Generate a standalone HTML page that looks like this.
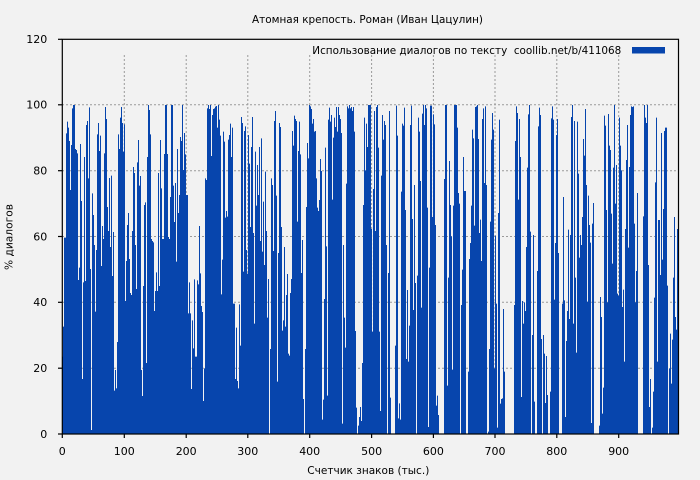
<!DOCTYPE html>
<html><head><meta charset="utf-8"><style>
html,body{margin:0;padding:0;background:#f2f2f2;}
svg{display:block;}
text{font-family:"DejaVu Sans","Liberation Sans",sans-serif;font-size:11px;fill:#000;}
</style></head><body>
<svg width="700" height="480" viewBox="0 0 700 480" xmlns="http://www.w3.org/2000/svg">
<rect x="0" y="0" width="700" height="480" fill="#f2f2f2"/>
<g stroke="#9a9a9a" stroke-width="1" stroke-dasharray="2,2" fill="none">
<line x1="62" y1="104.8" x2="678" y2="104.8"/>
<line x1="62" y1="170.7" x2="678" y2="170.7"/>
<line x1="62" y1="236.5" x2="678" y2="236.5"/>
<line x1="62" y1="302.3" x2="678" y2="302.3"/>
<line x1="62" y1="368.2" x2="678" y2="368.2"/>
<line x1="124.3" y1="55" x2="124.3" y2="434"/>
<line x1="186.2" y1="55" x2="186.2" y2="434"/>
<line x1="247.8" y1="55" x2="247.8" y2="434"/>
<line x1="309.7" y1="55" x2="309.7" y2="434"/>
<line x1="371.6" y1="55" x2="371.6" y2="434"/>
<line x1="433.4" y1="55" x2="433.4" y2="434"/>
<line x1="495.0" y1="55" x2="495.0" y2="434"/>
<line x1="556.8" y1="55" x2="556.8" y2="434"/>
<line x1="618.7" y1="55" x2="618.7" y2="434"/>
</g>
<g fill="#0745ad">
<path transform="translate(62,95) scale(0.3333333)" d="M0,1017V785H3V695H6V428H9V428H12V115H15V80H18V98H21V138H24V285H27V150H30V40H33V30H36V30H39V162H42V165H45V175H48V555H51V518H54V147H57V318H60V852H63V562H66V186H69V558H72V90H75V78H78V250H81V37H84V522H87V1005H90V295H93V360H96V450H99V650H102V465H105V118H108V84H111V168H114V122H117V513H120V393H123V432H126V175H129V36H132V72H135V336H138V408H141V249H144V456H147V242H150V543H153V411H156V887H159V825H162V880H165V741H168V118H171V162H174V68H177V36H180V84H183V170H186V88H189V618H192V498H195V390H198V354H201V492H204V594H207V600H210V408H213V216H216V234H219V450H222V582H225V202H228V135H231V272H234V243H237V825H240V903H243V573H246V330H249V322H252V804H255V186H258V30H261V45H264V118H267V432H270V438H273V442H276V648H279V588H282V532H285V588H288V234H291V573H294V135H297V280H300V432H303V432H306V177H309V30H312V30H315V177H318V426H321V432H324V306H327V30H330V30H333V272H336V381H339V264H342V500H345V162H348V354H351V300H354V126H357V138H360V30H363V225H366V114H369V178H372V300H375V300H378V655H381V562H384V655H387V882H390V676H393V760H396V553H399V785H402V785H405V556H408V568H411V393H414V535H417V633H420V651H423V918H426V820H429V250H432V255H435V40H438V30H441V42H444V30H447V183H450V60H453V42H456V40H459V35H462V33H465V1017Z"/>
<path transform="translate(217,95) scale(0.3333333)" d="M0,1017V98H3V30H6V74H9V122H12V598H15V494H18V110H21V140H24V368H27V348H30V365H33V134H36V120H39V86H42V186H45V98H48V626H51V626H54V852H57V698H60V858H63V880H66V628H69V752H72V66H75V84H78V530H81V108H84V94H87V465H90V536H93V120H96V206H99V396H102V156H105V66H108V414H111V686H114V170H117V332H120V210H123V300H126V156H129V438H132V130H135V470H138V320H141V510H144V230H147V408H150V668H153V552H156V1017H159V762H162V250H165V270H168V468H171V78H174V48H177V302H180V860H183V474H186V84H189V96H192V396H195V707H198V676H201V456H204V695H207V600H210V537H213V776H216V782H219V594H222V552H225V108H228V152H231V62H234V72H237V78H240V380H243V168H246V80H249V178H252V534H255V435H258V912H261V1017H264V762H267V336H270V144H273V190H276V30H279V34H282V42H285V86H288V72H291V110H294V108H297V250H300V338H303V348H306V315H309V192H312V228H315V974H318V914H321V612H324V158H327V454H330V902H333V74H336V38H339V80H342V60H345V314H348V128H351V68H354V96H357V36H360V110H363V36H366V60H369V72H372V114H375V986H378V450H381V668H384V758H387V266H390V34H393V40H396V30H399V40H402V36H405V48H408V36H411V110H414V708H417V938H420V1017H423V992H426V966H429V936H432V978H435V804H438V330H441V68H444V226H447V86H450V156H453V30H456V30H459V30H462V402H465V1017Z"/>
<path transform="translate(372,95) scale(0.3333333)" d="M0,1017V710H3V282H6V48H9V408H12V36H15V30H18V158H21V710H24V948H27V242H30V60H33V134H36V78H39V90H42V450H45V1017H48V534H51V48H54V908H57V1017H69V752H72V32H75V122H78V970H81V925H84V974H87V290H90V86H93V92H96V38H99V345H102V792H105V585H108V800H111V692H114V90H117V32H120V372H123V645H126V270H129V564H132V1017H135V542H138V68H141V110H144V258H147V638H150V56H153V30H156V90H159V30H162V40H165V338H168V996H171V518H174V32H177V32H180V366H183V58H186V88H189V390H192V932H195V902H198V960H201V1017H216V252H219V30H222V30H225V872H228V548H231V198H234V330H237V424H240V824H243V332H246V30H249V30H252V30H255V98H258V294H261V326H264V1017H267V630H270V524H273V186H276V288H279V288H282V1017H288V830H291V492H294V444H297V332H300V104H303V130H306V392H309V36H312V34H315V30H318V132H321V414H324V374H327V498H330V72H333V40H336V264H339V34H342V270H345V1017H348V1010H351V762H354V380H357V134H360V54H363V104H366V820H369V422H372V626H375V998H378V354H381V74H384V926H387V912H390V910H393V642H396V830H399V1017H426V630H429V138H432V34H435V54H438V314H441V72H444V186H447V906H450V618H453V686H456V622H459V648H462V456H465V1017Z"/>
<path transform="translate(527,95) scale(0.3333333)" d="M0,1017V218H3V58H6V30H9V410H12V1017H15V720H18V420H21V920H24V1017H30V528H33V94H36V38H39V60H42V732H45V1017H48V720H51V776H54V924H57V783H60V900H63V1017H69V890H72V70H75V34H78V74H81V614H84V444H87V120H90V72H93V474H96V1017H105V626H108V306H111V616H114V966H117V738H120V648H123V404H126V672H129V420H132V66H135V30H138V686H141V78H144V548H147V773H150V80H153V236H156V488H159V420H162V450H165V366H168V132H171V182H174V42H177V270H180V620H183V302H186V390H189V443H192V984H195V386H198V324H201V1017H216V992H219V606H222V666H225V956H228V878H231V62H234V92H237V345H240V622H243V57H246V152H249V165H252V356H255V506H258V218H261V30H264V326H267V210H270V596H273V602H276V68H279V152H282V226H285V636H288V584H291V800H294V402H297V195H300V90H303V458H306V216H309V60H312V34H315V36H318V34H321V386H324V622H327V528H330V294H333V1017H348V364H351V30H354V68H357V84H360V30H363V510H366V936H369V852H372V1017H375V998H378V890H381V608H384V262H387V68H390V800H393V375H396V375H399V540H402V114H405V494H408V342H411V108H414V98H420V572H423V1017H426V820H429V716H432V866H435V734H438V548H441V366H444V666H447V704H450V402H453V1017Z"/>
</g>
<rect x="62.3" y="39.3" width="616.2" height="394.7" fill="none" stroke="#000" stroke-width="1.2"/>
<g stroke="#000" stroke-width="1.2">
<line x1="58" y1="434" x2="62" y2="434"/>
<line x1="58" y1="368.2" x2="62" y2="368.2"/>
<line x1="58" y1="302.3" x2="62" y2="302.3"/>
<line x1="58" y1="236.5" x2="62" y2="236.5"/>
<line x1="58" y1="170.7" x2="62" y2="170.7"/>
<line x1="58" y1="104.8" x2="62" y2="104.8"/>
<line x1="58" y1="39.3" x2="62" y2="39.3"/>
<line x1="62.3" y1="434" x2="62.3" y2="438"/>
<line x1="124.3" y1="434" x2="124.3" y2="438"/>
<line x1="186.2" y1="434" x2="186.2" y2="438"/>
<line x1="247.8" y1="434" x2="247.8" y2="438"/>
<line x1="309.7" y1="434" x2="309.7" y2="438"/>
<line x1="371.6" y1="434" x2="371.6" y2="438"/>
<line x1="433.4" y1="434" x2="433.4" y2="438"/>
<line x1="495.0" y1="434" x2="495.0" y2="438"/>
<line x1="556.8" y1="434" x2="556.8" y2="438"/>
<line x1="618.7" y1="434" x2="618.7" y2="438"/>
</g>
<text x="367.5" y="23" text-anchor="middle" textLength="231" lengthAdjust="spacingAndGlyphs">Атомная крепость. Роман (Иван Цацулин)</text>
<text x="312.3" y="54" textLength="309" lengthAdjust="spacingAndGlyphs">Использование диалогов по тексту&#160; coollib.net/b/411068</text>
<rect x="632" y="47" width="33" height="6.5" fill="#0745ad"/>
<g text-anchor="end">
<text x="47.3" y="42.8">120</text>
<text x="47.3" y="108.6">100</text>
<text x="47.3" y="174.5">80</text>
<text x="47.3" y="240.3">60</text>
<text x="47.3" y="306.1">40</text>
<text x="47.3" y="372">20</text>
<text x="47.3" y="437.8">0</text>
</g>
<g text-anchor="middle">
<text x="62.3" y="455">0</text>
<text x="124.3" y="455">100</text>
<text x="186.2" y="455">200</text>
<text x="247.8" y="455">300</text>
<text x="309.7" y="455">400</text>
<text x="371.6" y="455">500</text>
<text x="433.4" y="455">600</text>
<text x="495.0" y="455">700</text>
<text x="556.8" y="455">800</text>
<text x="618.7" y="455">900</text>
</g>
<text x="368.3" y="474" text-anchor="middle" textLength="122" lengthAdjust="spacingAndGlyphs">Счетчик знаков (тыс.)</text>
<text x="12.3" y="237" text-anchor="middle" transform="rotate(-90 12.3 237)" textLength="66" lengthAdjust="spacingAndGlyphs">% диалогов</text>
</svg>
</body></html>
